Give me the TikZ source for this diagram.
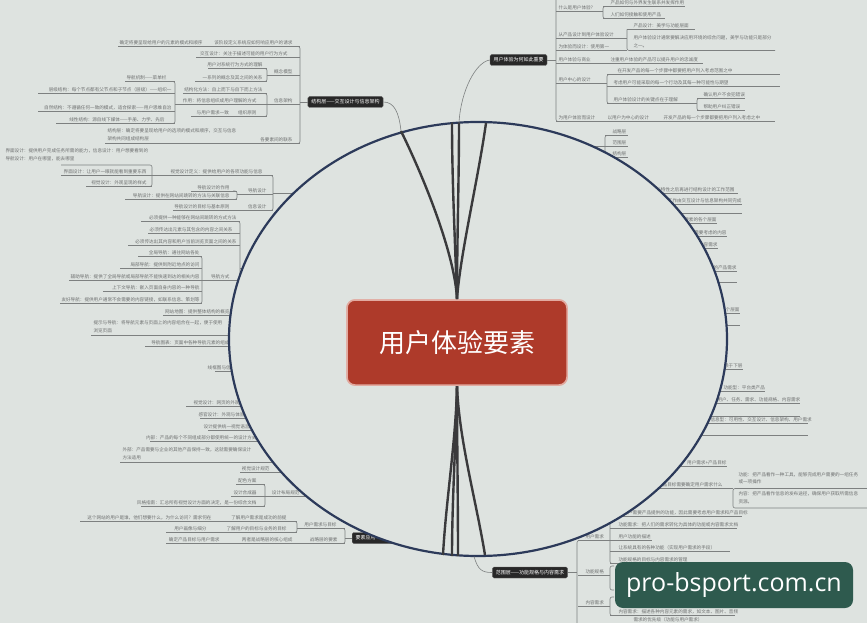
\documentclass[tikz,border=0pt]{standalone}
\usepackage{fontspec}
\setmainfont{Noto Sans CJK SC}
\newfontfamily\wmfont{Open Sans}
\definecolor{bgc}{RGB}{222,227,224}
\definecolor{txtg}{RGB}{110,112,112}
\definecolor{lng}{RGB}{125,128,128}
\definecolor{labbk}{RGB}{40,40,40}
\definecolor{ellc}{RGB}{44,58,90}
\definecolor{crv}{RGB}{58,58,60}
\definecolor{redc}{RGB}{174,58,42}
\definecolor{redl}{RGB}{226,170,160}
\definecolor{wmc}{RGB}{46,90,78}
\tikzset{
 itm/.style={font=\fontsize{4.6}{5}\selectfont, text=txtg, inner sep=0.3pt},
 uline/.style={draw=lng, line width=0.6pt},
 brk/.style={draw=lng, line width=0.6pt, rounded corners=2pt},
 blab/.style={fill=labbk, draw=labbk!70!white, line width=0.4pt, text=white, font=\fontsize{5}{6}\selectfont, rounded corners=1.5pt, inner xsep=3.5pt, inner ysep=0pt, minimum height=11pt},
 ell/.style={draw=ellc, line width=2.2pt},
 bigc/.style={draw=crv, line width=2.4pt},
 redbox/.style={fill=redc, draw=redl, line width=1.5pt, rounded corners=8pt, text=white, font=\fontsize{26}{30}\selectfont, minimum width=220pt, minimum height=85pt},
 wmbox/.style={fill=wmc, rounded corners=8pt, text=white, font=\wmfont\fontsize{25}{30}\selectfont, minimum width=238pt, minimum height=46pt}
}
\newcommand\ItemR[6]{\node[itm,anchor=east] (#1) at (#2,#3) {#6};\draw[uline] (#4,#3+3.5) -- (#5,#3+3.5);}
\newcommand\ItemL[6]{\node[itm,anchor=west] (#1) at (#2,#3) {#6};\draw[uline] (#4,#3+3.5) -- (#5,#3+3.5);}
\newcommand\TxtR[4]{\node[itm,anchor=east] (#1) at (#2,#3) {#4};}
\newcommand\TxtL[4]{\node[itm,anchor=west] (#1) at (#2,#3) {#4};}
\newcommand\ULine[3]{\draw[uline] (#1,#3) -- (#2,#3);}
\newcommand\Brk[4]{\draw[brk] ({#1+(#4)},#2) -- (#1,#2) -- (#1,#3) -- ({#1+(#4)},#3);}
\begin{document}
\begin{tikzpicture}[x=1pt,y=-1pt]
\useasboundingbox (0,0) rectangle (867,623);
\fill[bgc] (0,0) rectangle (867,623);

% ---------- top-left branch
\ItemR{a1}{293}{43}{118}{300}{该阶段定义系统应如何响应用户的请求}
\TxtR{a1c}{203}{43}{确定将要呈现给用户的元素的模式和顺序}
\ItemR{a2}{288}{54}{196}{300}{交互设计：关注于描述可能的用户行为方式}
\ItemR{a3}{293}{72}{267}{300}{概念模型}
\ItemR{a3a}{263}{65}{208}{267}{用户对系统行为方式的理解}
\ItemR{a3b}{263}{78}{195}{267}{一系列的概念及其之间的关系}
\Brk{267}{68.5}{81.5}{-4}
\ItemR{a4}{293}{101}{267}{300}{信息架构}
\ItemR{a4a}{263}{90}{183}{267}{结构化方法：自上而下与自下而上方法}
\ItemR{a4b}{257}{101}{175}{267}{作用：将信息组织成用户理解的方式}
\ItemR{a4c}{257}{113}{191}{267}{与用户需求一致　　组织原则}
\Brk{267}{93.5}{116.5}{-4}
\ItemR{a4ba}{167}{78}{125}{175}{导航机制——菜单栏}
\ItemR{a4bb}{172}{90}{38}{175}{层级结构：每个节点都有父节点和子节点（层级）——组织一}
\ItemR{a4bc}{172}{108}{38}{175}{自然结构：不遵循任何一致的模式，适合探索——用户思维自治}
\ItemR{a4bd}{165}{120}{56}{175}{线性结构：源自线下媒体——手册、力学、先后}
\Brk{175}{81.5}{123.5}{-4}
\ItemR{a5}{293}{140}{105}{300}{各要素间的联系}
\TxtL{a5l1}{107}{131}{结构层：确定将要呈现给用户的选项的模式和顺序，交互与信息}
\TxtL{a5l2}{107}{139}{架构共同组成结构层}
\Brk{300}{46.5}{143.5}{-4}
\TxtL{a6l1}{5}{151}{界面设计：提供用户完成任务所需的能力，信息设计：用户想要看到的}
\TxtL{a6l2}{5}{159}{导航设计：用户在哪里，能去哪里}

% ---------- framework branch
\ItemR{b7}{263}{172}{152}{273}{视觉设计定义：提供给用户的各项功能与信息}
\ItemR{b7a}{147}{172}{61}{152}{界面设计：让用户一眼就能看到重要东西}
\ItemR{b7b}{147}{183}{88}{152}{视觉设计：外观呈现的样式}
\draw[brk] (61,165) -- (152,165) -- (152,186.5) -- (86,186.5);
\ItemR{b8a}{230}{187.5}{191}{237}{导航设计的作用}
\ItemR{b8b}{230}{196}{125}{237}{导航设计：提供在网站间跳转的方法与关联信息}
\Brk{237}{191}{199.5}{-4}
\ItemR{b8L}{267}{191}{237}{273}{导航设计}
\ItemR{b9}{230}{207}{173}{273}{导航设计的目标与基本原则}
\TxtR{b9L}{267}{207}{信息设计}
\Brk{273}{175.5}{210.5}{-4}
\draw[uline] (273,193) -- (300,193);

\ItemR{c10}{237}{218}{141}{240}{必须提供一种能够在网站间跳转的方式方法}
\ItemR{c11}{233}{230}{148}{240}{必须传达出元素与其包含的内容之间关系}
\ItemR{c12}{237}{242}{128}{240}{必须传达出其内容和用户当前浏览页面之间的关系}
\ItemR{c13}{200}{253}{138}{202}{全局导航：通往网站各处}
\ItemR{c14}{200}{265}{120}{202}{局部导航：提供到附近地点的访问}
\ItemR{c15}{200}{277}{69}{202}{辅助导航：提供了全局导航或局部导航不能快速到达的相关内容}
\ItemR{c16}{200}{288}{103}{202}{上下文导航：嵌入页面自身内容的一种导航}
\ItemR{c17}{200}{300}{60}{202}{友好导航：提供用户通常不会需要的内容链接，如联系信息、策划等}
\Brk{202}{256.5}{303.5}{-4}
\ItemR{cL}{230}{277}{202}{240}{导航方式}
\ItemR{c18}{230}{312}{163}{240}{网站地图：提供整体结构的概览}
\Brk{240}{221.5}{315.5}{-4}
\draw[uline] (240,268) -- (255,268);
\TxtL{c19a}{93}{323}{提示与导航：将导航元素与页面上的内容组合在一起，便于使用}
\TxtL{c19b}{93}{331}{浏览页面}
\ULine{91}{245}{335}
\ItemR{c20}{230}{343}{145}{245}{导航图表：页面中各种导航元素的组成}
\ItemR{c21}{245}{368}{215}{250}{线框图与信息设计}

% ---------- lower-left branch
\ItemR{d22}{240}{403}{186}{255}{视觉设计：网页的外观}
\ItemR{d23}{245}{415}{200}{260}{感官设计：外观与体验}
\ItemR{d24}{250}{427}{208}{265}{设计提供统一视觉语言}
\ItemR{d25}{257}{438}{150}{272}{内部：产品的每个不同组成部分都使用统一的设计方式}
\TxtL{d26a}{122}{450}{外部：产品需要与企业的其他产品保持一致，这就需要确保设计}
\TxtL{d26b}{122}{458}{方法适用}
\ULine{120}{278}{462}
\ItemR{d27}{270}{469}{240}{285}{视觉设计规范}
\ItemR{d28}{257}{481}{236}{265}{配色方案}
\ItemR{d29}{257}{493}{231}{265}{设计合成器}
\ItemR{d29L}{300}{493}{265}{310}{设计布局规范}
\ItemR{d30}{257}{503}{141}{265}{风格指南：汇总所有视觉设计方面的决定，是一份综合文档}
\Brk{265}{484.5}{506.5}{-4}
\TxtR{d31a}{212}{518}{这个网站的用户是谁，他们想要什么，为什么访问？需求何在}
\ItemR{d31b}{287}{518}{80}{297}{了解用户需求是成功的前提}
\TxtR{d32a}{207}{529}{用户画像与细分}
\ItemR{d32b}{287}{529}{166}{297}{了解用户的目标与业务的目标}
\Brk{297}{521.5}{532.5}{-4}
\ItemR{d32L}{337}{525}{297}{345}{用户需求与目标}
\TxtR{d33a}{220}{540}{确定产品目标与用户需求}
\ItemR{d33b}{293}{540}{166}{345}{两者是战略层的核心组成}
\TxtR{d33L}{338}{540}{战略层的要素}
\Brk{345}{528.5}{543.5}{-4}
\node[blab, anchor=west] (BL) at (352,538) {要素应用——战略层};
\draw[uline] (345,538) -- (BL.west);

% ---------- top-right branch
\draw[brk] (556,-2) -- (556,121.5) -- (560,121.5);
\ItemL{r1}{558}{8}{556}{603}{什么是用户体验？}
\ItemL{r1a}{610}{3}{603}{685}{产品如何与外界发生联系并发挥作用}
\ItemL{r1b}{610}{15}{603}{665}{人们如何接触和使用产品}
\Brk{603}{6.5}{18.5}{4}
\ItemL{r2}{558}{35}{556}{627}{从产品设计到用户体验设计}
\ItemL{r2a}{633}{26}{627}{695}{产品设计：美学与功能层面}
\TxtL{r2b1}{633}{38}{用户体验设计通常要解决应用环境的综合问题，美学与功能只是部分}
\TxtL{r2b2}{633}{46}{之一。}
\draw[brk] (627,29.5) -- (627,50.5) -- (775,50.5);
\ItemL{r3}{558}{47}{556}{627}{为体验而设计：使用第一}
\ItemL{r4a}{558}{60}{556}{703}{用户体验与商业}
\TxtL{r4b}{610}{60}{注重用户体验的产品可以提升用户的忠诚度}
\ItemL{r5}{558}{80}{556}{607}{用户中心的设计}
\ItemL{r5a}{617}{71}{607}{780}{在开发产品的每一个步骤中都要把用户列入考虑范围之中}
\ItemL{r5b}{613}{83}{607}{780}{考虑用户可能采取的每一个行动及其每一种可能性与期望}
\ItemL{r5c}{613}{100}{607}{697}{用户体验设计的关键点在于理解}
\Brk{607}{74.5}{103.5}{4}
\ItemL{r5ca}{703}{95}{697}{745}{确认用户不会犯错误}
\ItemL{r5cb}{703}{107}{697}{745}{帮助用户纠正错误}
\Brk{697}{98.5}{110.5}{4}
\ItemL{r6a}{558}{118}{556}{775}{为用户体验而设计}
\TxtL{r6b}{607}{118}{以用户为中心的设计}
\TxtL{r6c}{663}{118}{开发产品的每一个步骤都要把用户列入考虑之中}
\node[blab] (TR) at (518.5,60) {用户体验为何如此重要};
\draw[uline] (TR.east) -- (556,60);

% ---------- right side (partly under the ellipse)
\ItemL{s1}{612}{132}{605}{628}{战略层}
\ItemL{s2}{612}{143}{605}{628}{范围层}
\ItemL{s3}{612}{154}{605}{628}{结构层}
\Brk{605}{135.5}{157.5}{4}
\draw[uline] (605,146.5) -- (575,146.5);
\ItemR{s4}{735}{190}{600}{738}{确定了产品的功能与特性之后再进行结构设计的工作范围}
\ItemR{s5}{742}{201}{600}{742}{结构层的设计工作由交互设计与信息架构共同完成}
\ULine{640}{742}{213}
\ItemR{s6}{717}{220}{640}{717}{用户体验要素的各个层面}
\ItemR{s7}{727}{233}{650}{727}{以及每个层面上需要考虑的内容}
\ItemR{s8}{718}{245}{660}{718}{功能规格与内容需求}
\ItemR{s9}{737}{268}{660}{737}{将战略转化为具体的产品需求}
\ULine{660}{737}{282.5}
\ItemR{s10}{740}{310}{680}{740}{用户体验由表及里的五个层面}
\ULine{680}{740}{325}
\ItemR{s11}{743}{366}{690}{743}{每个层面的决策依赖于下层}
\ItemL{s12}{723}{388}{715}{765}{功能型：平台类产品}
\ItemL{s13}{717}{400}{700}{800}{用户、任务、需求、功能规格、内容需求}
\ULine{700}{800}{416}
\ItemL{s14}{710}{420}{690}{808}{信息型：可用性、交互设计、信息架构、用户需求}
\ULine{690}{808}{435}

% ---------- lower-right branch
\ItemR{t1}{727}{463}{660}{727}{用户需求+产品目标}
\TxtL{t2a}{738}{475}{功能：把产品看作一种工具，能够完成用户需要的一组任务}
\TxtL{t2b}{738}{482}{或一项操作}
\ItemR{t3}{723}{485}{650}{733}{产品目标需要确定用户需求什么}
\TxtL{t4a}{738}{494}{内容：把产品看作信息的发布途径，确保用户获取所需信息}
\TxtL{t4b}{738}{502}{资源。}
\draw[brk] (870,488.5) -- (733,488.5) -- (733,508) -- (870,508);
\ItemL{t5}{623}{513}{610}{742}{用户需要产品提供的功能，因此需要考虑用户需求和产品目标}
\ItemL{t6}{618}{525}{610}{737}{功能需求：把人们的需求转化为具体的功能或内容需求文档}
\ItemL{t7}{618}{537}{610}{652}{用户功能的描述}
\ItemL{t7L}{585}{537}{578}{610}{用户需求}
\ItemL{t8}{618}{548}{610}{730}{让系统具有的各种功能（实现用户需求的手段）}
\ItemL{t9}{618}{560}{610}{697}{功能规格的目标与内容需求的管理}
\Brk{610}{516.5}{563.5}{4}
\ItemL{t10L}{585}{572}{578}{610}{功能规格}
\Brk{610}{566}{590}{4}
\ItemL{t11L}{585}{603}{578}{610}{内容需求}
\ItemL{t11a}{618}{612}{610}{735}{内容需求：描述各种内容元素的需求，如文本、图片、音频}
\TxtL{t11b}{633}{620}{需求的优先级（功能与用户需求）}
\Brk{610}{597}{615.5}{4}
\draw[brk] (581,540.5) -- (577,540.5) -- (577,626);
\node[blab] (BR) at (530,572.5) {范围层——功能规格与内容需求};
\draw[uline] (BR.east) -- (577,572.5);

% ---------- top-left label
\node[blab] (TL) at (345.5,102) {结构层——交互设计与信息架构};
\draw[uline] (300,102) -- (TL.west);

% ---------- ellipse
\draw[ell, fill=bgc] (478,339) ellipse [x radius=249pt, y radius=217pt];
\coordinate (e1) at (401,131);
\coordinate (e2) at (452,122.5);
\coordinate (e3) at (459,122.5);
\coordinate (e4) at (486,123);
\coordinate (f1) at (443,555);
\coordinate (f2) at (452,556);
\coordinate (f3) at (458,556);
\coordinate (f4) at (485,555);
\coordinate (f5) at (474,556.5);

% ---------- central node and curves
\node[redbox] (red) at (457,342.5) {};
\draw[bigc] (red.north) .. controls (455,255) and (425,180) .. (e1);
\draw[bigc] (red.north) .. controls (455,240) and (452,180) .. (e2);
\draw[bigc] (red.north) .. controls (457,240) and (459,180) .. (e3);
\draw[bigc] (red.north) .. controls (460,255) and (478,180) .. (e4);
\draw[bigc] (red.south) .. controls (456,440) and (446,500) .. (f1);
\draw[bigc] (red.south) .. controls (456,440) and (452,500) .. (f2);
\draw[bigc] (red.south) .. controls (457,440) and (458,500) .. (f3);
\draw[bigc] (red.south) .. controls (459,440) and (476,500) .. (f4);
\node[redbox] (redtop) at (457,342.5) {用户体验要素};

% ---------- thin connectors to branch labels
\draw[uline] (TL.east) .. controls (394,102) and (399,112) .. (e1);
\draw[uline] (TR.west) .. controls (476,62) and (461,90) .. (e3);
\draw[uline] (f5) .. controls (478,570) and (482,572.5) .. (BR.west);

% ---------- watermark
\node[wmbox] (wm) at (734,585) {pro-bsport.com.cn};
\end{tikzpicture}
\end{document}
